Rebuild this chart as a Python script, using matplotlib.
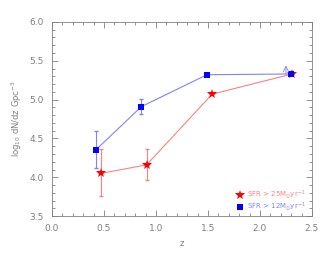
import matplotlib
matplotlib.use("Agg")
import matplotlib.pyplot as plt
from matplotlib.ticker import MultipleLocator, FormatStrFormatter

# SFR > 25 Msun/yr (red stars)
z_red = [0.47, 0.91, 1.54, 2.31]
n_red = [4.05, 4.16, 5.07, 5.33]
lo_red = [0.29, 0.20, 0.0, 0.0]
hi_red = [0.31, 0.20, 0.0, 0.0]

# SFR > 12 Msun/yr (blue squares)
z_blue = [0.42, 0.86, 1.49, 2.30]
n_blue = [4.35, 4.91, 5.32, 5.33]
lo_blue = [0.23, 0.09, 0.0, 0.0]
hi_blue = [0.24, 0.10, 0.0, 0.0]

# lower-limit arrow on the last blue point
arrow_z = 2.25
arrow_from, arrow_to = 5.33, 5.44

grey = "#808080"
plt.rcParams["font.family"] = "DejaVu Sans"

fig = plt.figure(figsize=(3.27, 2.61), dpi=100)
ax = fig.add_axes([0.159, 0.172, 0.795, 0.744])

ax.errorbar(z_red, n_red, yerr=[lo_red, hi_red], color="#ff8080", lw=0.8,
            elinewidth=0.8, capsize=1.5, zorder=2)
ax.plot(z_red, n_red, "*", color="red", ms=7, mew=0, zorder=3)
ax.errorbar(z_blue, n_blue, yerr=[lo_blue, hi_blue], color="#8080ff", lw=0.8,
            elinewidth=0.8, capsize=1.5, zorder=2)
ax.plot(z_blue, n_blue, "s", color="blue", ms=4.5, mew=0, zorder=3)
ax.annotate("", xy=(arrow_z, arrow_to), xytext=(arrow_z, arrow_from),
            arrowprops=dict(arrowstyle="->", color="#8080ff", lw=0.6,
                            shrinkA=0, shrinkB=0))

ax.set_xlim(0, 2.5)
ax.set_ylim(3.5, 6.0)
ax.xaxis.set_major_locator(MultipleLocator(0.5))
ax.xaxis.set_minor_locator(MultipleLocator(0.1))
ax.yaxis.set_major_locator(MultipleLocator(0.5))
ax.yaxis.set_minor_locator(MultipleLocator(0.1))
ax.tick_params(which="both", direction="in", top=True, right=True,
               colors=grey, labelsize=6.5, width=0.6)
ax.tick_params(which="major", length=4, pad=6)
ax.tick_params(which="minor", length=2)
ax.xaxis.set_major_formatter(FormatStrFormatter("%.1f"))
ax.yaxis.set_major_formatter(FormatStrFormatter("%.1f"))
for s in ax.spines.values():
    s.set_color(grey)
    s.set_linewidth(0.6)

ax.set_xlabel("z", color=grey, fontsize=6)
ax.set_ylabel(r"log$_{10}$ dN/dz Gpc$^{-3}$", color=grey, fontsize=6)

ax.plot([1.81], [3.77], "*", color="red", ms=7, mew=0)
ax.text(1.88, 3.77, r"SFR > 25M$_{\odot}$yr$^{-1}$", color="#ff8080",
        fontsize=5, va="center")
ax.plot([1.81], [3.62], "s", color="blue", ms=4.5, mew=0)
ax.text(1.88, 3.62, r"SFR > 12M$_{\odot}$yr$^{-1}$", color="#8080ff",
        fontsize=5, va="center")

fig.savefig("out.png", dpi=100)
plt.close(fig)
